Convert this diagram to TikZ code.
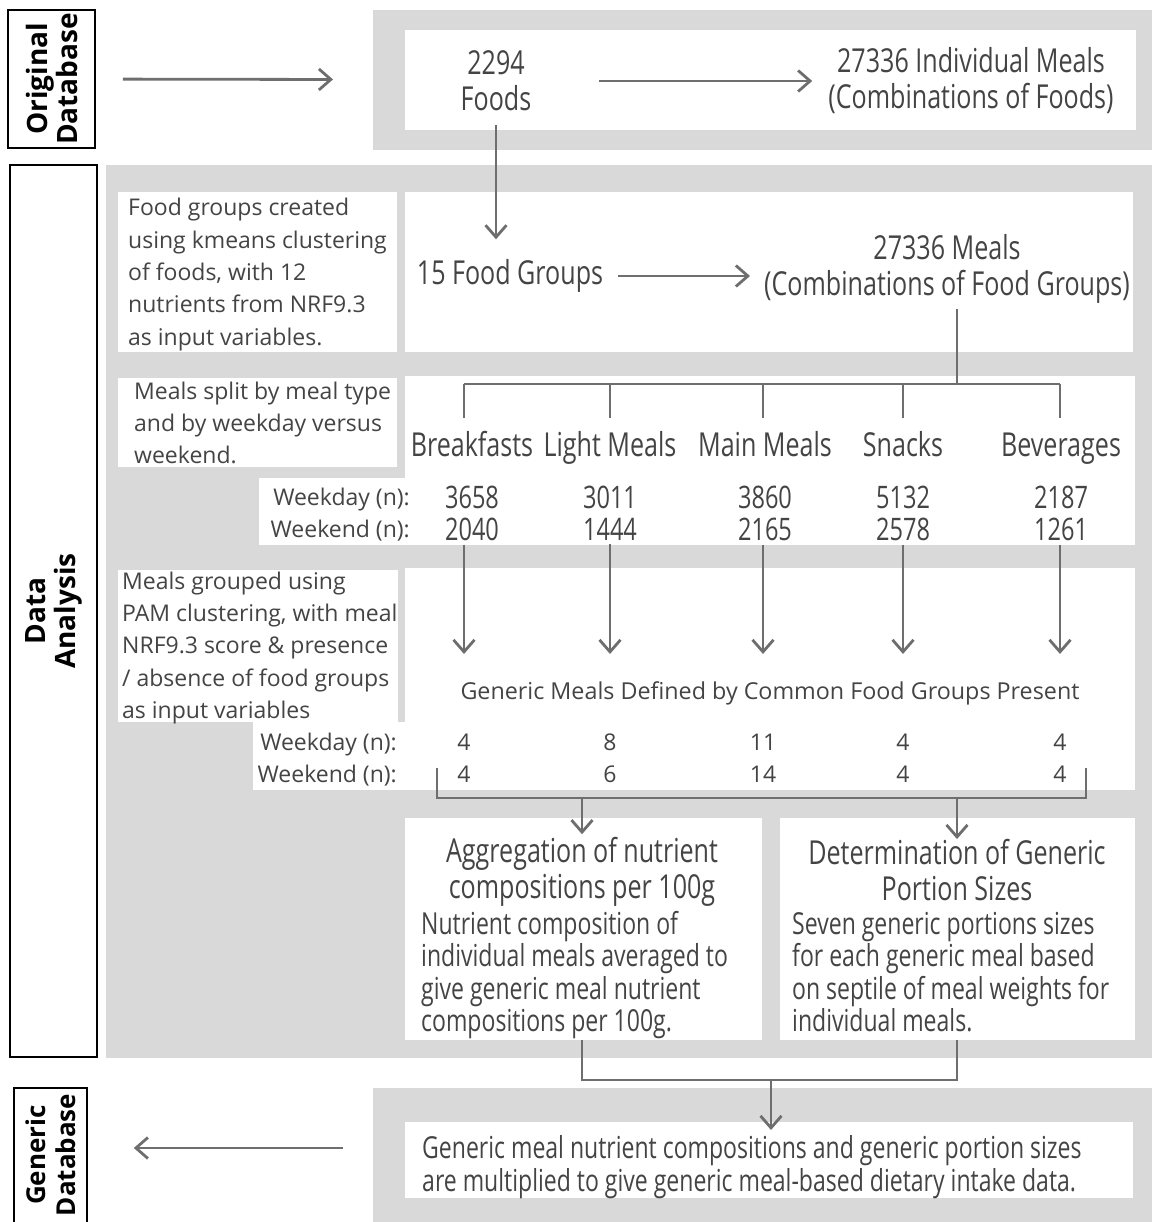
\documentclass[tikz,border=0pt]{standalone}
\usepackage{fontspec}
\setmainfont{Open Sans}
\newfontfamily\condfont[FakeStretch=0.76]{Open Sans}
\usetikzlibrary{arrows.meta}

\definecolor{panelgrey}{HTML}{D9D9D9}
\definecolor{linkgrey}{HTML}{6E6E6E}
\definecolor{textgrey}{HTML}{444444}

\tikzset{
  panel/.style={fill=panelgrey, inner sep=0, anchor=north west},
  whitebox/.style={fill=white, inner sep=0, anchor=north west},
  stage/.style={draw=black, line width=1.6pt, rotate=90, inner sep=0, align=center,
    font=\bfseries\fontsize{28}{30}\selectfont},
  cond/.style={font=\condfont\fontsize{33}{36}\selectfont, text=textgrey, inner sep=0, align=center},
  numrow/.style={font=\condfont\fontsize{31}{32}\selectfont, text=textgrey, inner sep=0, anchor=base},
  condbody/.style={font=\condfont\fontsize{30.3}{32.5}\selectfont, text=textgrey, inner sep=0,
    align=left, anchor=west},
  note/.style={font=\fontsize{23}{32.3}\selectfont, text=textgrey, inner sep=0, align=left, anchor=west},
  count/.style={font=\fontsize{23}{32}\selectfont, text=textgrey, inner sep=0, anchor=base},
  flow/.style={draw=linkgrey, line width=2.8pt, -{Straight Barb[length=12pt, width=21pt]}},
  tree/.style={draw=linkgrey, line width=2.6pt},
}

\begin{document}
\begin{tikzpicture}[x=1pt, y=-1pt]
\useasboundingbox (0,0) rectangle (1152,1222);

% panels
\node[panel, minimum width=779, minimum height=140] (toppanel) at (373,10) {};
\node[panel, minimum width=1046, minimum height=893] (midpanel) at (106,165) {};
\node[panel, minimum width=779, minimum height=134] (botpanel) at (373,1088) {};

\node[whitebox, minimum width=731, minimum height=100] (topbox) at (405,30) {};
\node[whitebox, minimum width=279, minimum height=160] (fgbox) at (118,192) {};
\node[whitebox, minimum width=728, minimum height=160] (groupbox) at (405,192) {};
\node[whitebox, minimum width=279, minimum height=89] (splitbox) at (118,378) {};
\node[whitebox, minimum width=730, minimum height=169] (typebox) at (405,376) {};
\node[whitebox, minimum width=150, minimum height=67] (typeext) at (259,478) {};
\node[whitebox, minimum width=280, minimum height=152] (pambox) at (118,570) {};
\node[whitebox, minimum width=730, minimum height=222] (genbox) at (405,568) {};
\node[whitebox, minimum width=156, minimum height=68] (genext) at (253,722) {};
\node[whitebox, minimum width=357, minimum height=222] (aggbox) at (405,818) {};
\node[whitebox, minimum width=355, minimum height=222] (detbox) at (780,818) {};
\node[whitebox, minimum width=728, minimum height=76] (finalbox) at (405,1122) {};

% stage labels
\node[stage, minimum width=138, minimum height=87] (orig) at (51.5,79) {Original\\Database};
\node[stage, minimum width=892, minimum height=87] (analysis) at (53.5,611) {Data\\Analysis};
\node[stage, minimum width=146, minimum height=73] (gendb) at (50.5,1161) {};
\node[stage, draw=none, font=\bfseries\fontsize{26}{30}\selectfont] (gendbtext) at (50.5,1155) {Generic\\Database};

% original database
\node[cond] (foods) at (496,81) {2294\\Foods};
\node[cond] (indiv) at (971,81) {27336 Individual Meals\\(Combinations of Foods)};
\draw[flow, shorten <=27pt, shorten >=40pt] (orig) -- (toppanel);
\draw[flow, shorten <=68pt, shorten >=16pt] (foods) -- (indiv);

% food groups
\node[note] (fgtext) at (128,274.5) {Food groups created\\using kmeans clustering\\of foods, with 12\\nutrients from NRF9.3\\as input variables.};
\node[cond] (groups) at (510,276) {15 Food Groups};
\node[cond] (meals) at (947,269) {27336 Meals\\(Combinations of Food Groups)};
\draw[flow, shorten <=14pt, shorten >=20pt] (foods.south) -- (foods.south |- groups.north);
\draw[flow, shorten <=15pt, shorten >=14pt] (groups.east) -- (groups.east -| meals.west);

% meal types
\node[note] (splittext) at (134,423) {Meals split by meal type\\and by weekday versus\\weekend.};
\node[note, anchor=base east] (wdlab) at (410,505) {Weekday (n):};
\node[note, anchor=base east] (welab) at (410,537) {Weekend (n):};
\coordinate (split) at (957,384);
\draw[tree, shorten <=5pt] (meals.south -| split) -- (split);

% generic meals
\node[note] (pamtext) at (122,648) {Meals grouped using\\PAM clustering, with meal\\NRF9.3 score \& presence\\/ absence of food groups\\as input variables};
\node[note, anchor=base, font=\fontsize{23.3}{32}\selectfont] (gentitle) at (770,699) {Generic Meals Defined by Common Food Groups Present};
\node[note, anchor=base east] (gwdlab) at (397,750) {Weekday (n):};
\node[note, anchor=base east] (gwelab) at (397,782) {Weekend (n):};

\foreach \i/\cx/\lx/\mtype/\nwd/\nwe/\ngd/\nge in {1/464/472/Breakfasts/3658/2040/4/4,
    2/610/610/Light Meals/3011/1444/8/6, 3/763/765/Main Meals/3860/2165/11/14,
    4/903/903/Snacks/5132/2578/4/4, 5/1060/1061/Beverages/2187/1261/4/4}{
  \node[cond, anchor=base] (type\i) at (\lx,456) {\mtype};
  \node[numrow] (wd\i) at (\lx,508) {\nwd};
  \node[numrow] (we\i) at (\lx,540) {\nwe};
  \node[count] (gd\i) at (\cx,750) {\ngd};
  \node[count] (ge\i) at (\cx,782) {\nge};
  \coordinate (bar\i) at (\cx,384);
  \draw[tree, shorten >=13pt] (bar\i) -- (bar\i |- type1.north);
  \draw[flow, shorten <=4pt, shorten >=27pt] (bar\i |- we\i.south) -- (bar\i |- gentitle.north);
}
\draw[tree] (bar1) -- (bar5);

% aggregation and portions
\node[cond] (agghead) at (582,872) {Aggregation of nutrient\\compositions per 100g};
\node[condbody] (aggbody) at (421,975) {Nutrient composition of\\individual meals averaged to\\give generic meal nutrient\\compositions per 100g.};
\node[cond] (dethead) at (957,870) {Determination of Generic\\Portion Sizes};
\node[condbody] (detbody) at (792,972) {Seven generic portions sizes\\for each generic meal based\\on septile of meal weights for\\individual meals.};

\coordinate (brl) at (437,768);
\coordinate (brr) at (1086,768);
\coordinate (brbase) at (1086,798);
\draw[tree] (brl) |- (brbase) -- (brr);
\draw[flow, shorten >=3pt] (agghead.north |- brbase) -- (agghead.north);
\draw[flow] (dethead.north |- brbase) -- (dethead.north);

% generic database
\node[condbody] (final) at (422,1167) {Generic meal nutrient compositions and generic portion sizes\\are multiplied to give generic meal-based dietary intake data.};
\coordinate (joint) at (771,1080);
\draw[tree] (aggbox.south -| agghead) |- (joint) -| (detbox.south -| dethead);
\draw[flow, shorten >=-8pt] (joint) -- (joint |- finalbox.north);
\coordinate (outarrow) at (343,1148);
\draw[flow, shorten >=46pt] (outarrow) -- (outarrow -| gendb.south);
\end{tikzpicture}
\end{document}
